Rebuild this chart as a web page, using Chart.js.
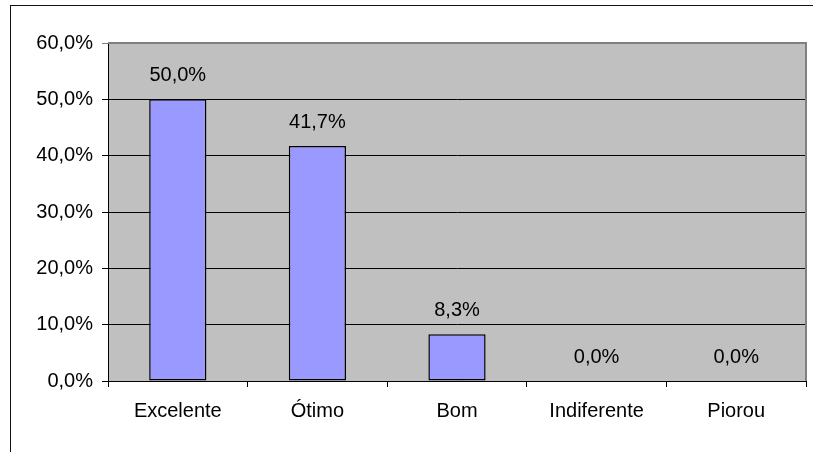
<!DOCTYPE html>
<html>
<head>
<meta charset="utf-8">
<script src="https://cdn.jsdelivr.net/npm/chart.js@4"></script>
<style>
    html, body { margin: 0; padding: 0; background: #fff; overflow: hidden; }
    #wrap { position: relative; width: 813px; height: 452px; }
    #frame {
        position: absolute; left: 10px; top: 5px; width: 900px; height: 500px;
        border-top: 1px solid #111; border-left: 1px solid #111;
    }
    #chart { position: absolute; left: 0; top: 0; }
</style>
</head>
<body>
<div id="wrap">
    <div id="frame"></div>
    <canvas id="chart" width="813" height="452"></canvas>
</div>
<script>
const categories = ['Excelente', 'Ótimo', 'Bom', 'Indiferente', 'Piorou'];
const percentages = [50.0, 41.7, 8.3, 0.0, 0.0];
const yTicks = [0, 10, 20, 30, 40, 50, 60];

const FONT = { family: '"Liberation Sans", Arial, sans-serif', size: 20 };

function fmt(v) {
    return v.toFixed(1).replace('.', ',') + '%';
}

// grey plot background, plus the grey top/right edge of the plot area
const plotArea = {
    id: 'plotArea',
    beforeDraw(chart) {
        const { ctx, chartArea: a } = chart;
        ctx.save();
        ctx.fillStyle = '#c0c0c0';
        ctx.fillRect(a.left, a.top, a.right - a.left, a.bottom - a.top);
        ctx.restore();
    },
    afterDraw(chart) {
        const { ctx, chartArea: a } = chart;
        ctx.save();
        ctx.strokeStyle = '#808080';
        ctx.lineWidth = 2;
        ctx.beginPath();
        ctx.moveTo(a.left, a.top);
        ctx.lineTo(a.right, a.top);
        ctx.lineTo(a.right, a.bottom);
        ctx.stroke();
        ctx.restore();
    }
};

// value labels above each bar
const valueLabels = {
    id: 'valueLabels',
    afterDatasetsDraw(chart) {
        const { ctx } = chart;
        const meta = chart.getDatasetMeta(0);
        ctx.save();
        ctx.font = FONT.size + 'px ' + FONT.family;
        ctx.fillStyle = '#000';
        ctx.textAlign = 'center';
        ctx.textBaseline = 'alphabetic';
        meta.data.forEach((bar, i) => {
            ctx.fillText(fmt(percentages[i]), bar.x, bar.y - 18);
        });
        ctx.restore();
    }
};

new Chart(document.getElementById('chart'), {
    type: 'bar',
    data: {
        labels: categories,
        datasets: [{
            data: percentages,
            backgroundColor: '#9999ff',
            borderColor: '#000',
            borderWidth: 1.5,
            borderSkipped: false,
            categoryPercentage: 1,
            barPercentage: 0.41
        }]
    },
    options: {
        responsive: false,
        animation: false,
        events: [],
        layout: { padding: { top: 43, right: 7, left: 0, bottom: 0 } },
        plugins: {
            legend: { display: false },
            tooltip: { enabled: false }
        },
        scales: {
            x: {
                afterFit: s => { s.height = 71; },
                grid: {
                    offset: true,
                    drawOnChartArea: false,
                    color: '#000',
                    tickLength: 6
                },
                border: { color: '#000', width: 1 },
                ticks: { color: '#000', font: FONT, padding: 12 }
            },
            y: {
                min: 0,
                max: 60,
                afterFit: s => { s.width = 108; },
                afterBuildTicks: s => { s.ticks = yTicks.map(v => ({ value: v })); },
                grid: {
                    color: ctx => (ctx.tick && ctx.tick.value === 60 ? '#808080' : '#000'),
                    tickLength: 6
                },
                border: { color: '#000', width: 1 },
                ticks: {
                    color: '#000',
                    font: FONT,
                    padding: 9,
                    callback: v => fmt(v)
                }
            }
        }
    },
    plugins: [plotArea, valueLabels]
});
</script>
</body>
</html>
